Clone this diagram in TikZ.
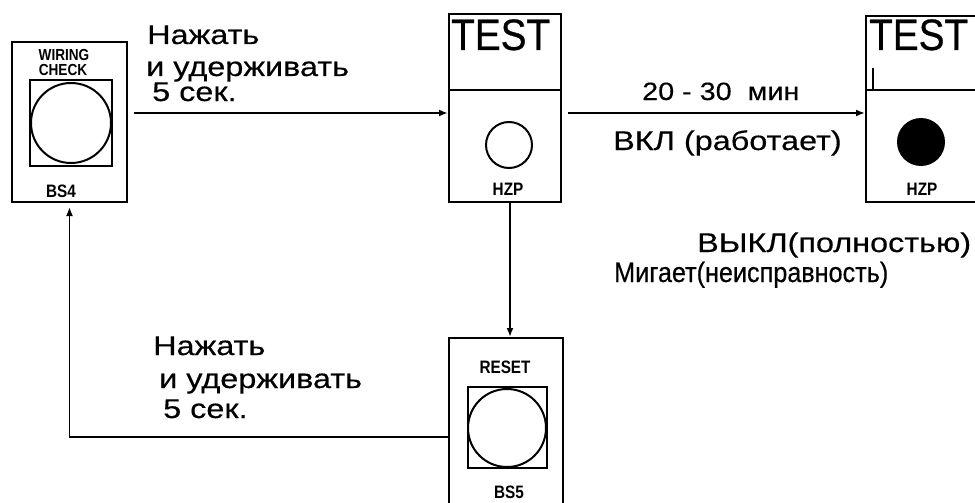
\documentclass[tikz,border=0pt]{standalone}
\usepackage{fontspec}
\setmainfont{Liberation Sans}
\newfontfamily\widefont[FakeStretch=1.2,FakeBold=0.4]{Liberation Sans}
\newfontfamily\timefont[FakeStretch=1.15,FakeBold=0.4]{Liberation Sans}
\newfontfamily\blinkfont[FakeStretch=0.9,FakeBold=0.4]{Liberation Sans}
\newfontfamily\testfont[FakeStretch=0.88,FakeBold=0.6]{Liberation Sans}
\newfontfamily\narrowfont[FakeStretch=0.85]{Liberation Sans}
\usetikzlibrary{arrows.meta}
\begin{document}
\begin{tikzpicture}[x=1pt,y=-1pt,
  box/.style={draw,line width=2pt,inner sep=0pt},
  arr/.style={line width=1.8pt,-{Latex[length=9pt,width=7pt]}},
  thin/.style={line width=1.5pt},
  main/.style={anchor=base west,inner sep=0pt,font=\widefont\fontsize{27}{30}\selectfont},
  lbl/.style={anchor=base,inner sep=0pt,font=\narrowfont\bfseries\fontsize{18}{20}\selectfont},
  smalllbl/.style={anchor=base,inner sep=0pt,font=\narrowfont\bfseries\fontsize{16}{17}\selectfont},
  testlbl/.style={anchor=base west,inner sep=0pt,font=\testfont\fontsize{44}{46}\selectfont}]
\useasboundingbox[fill=white] (0,0) rectangle (975,503);

% boxes
\node[box,minimum width=115pt,minimum height=160pt] (bs4) at (69.5,122) {};
\node[box,minimum width=112pt,minimum height=188pt] (test1) at (505,108) {};
\node[box,minimum width=120pt,minimum height=186pt] (test2) at (926,109) {};
\node[box,minimum width=114pt,minimum height=172pt] (bs5) at (506,424) {};

% BS4 contents
\node[smalllbl] (wiring) at (64,60) {WIRING};
\node[smalllbl] (check) at (63,75) {CHECK};
\draw[thin] (30,80) rectangle (112,166);
\draw[line width=2pt] (71,123) circle[radius=40];
\node[lbl] (bs4lbl) at (61,197) {BS4};

% TEST1 contents
\node[testlbl] (t1) at (451,50) {TEST};
\draw[line width=2pt] (test1.west |- 0,90) -- (test1.east |- 0,90);
\draw[line width=2pt] (509,145) circle[radius=23];
\node[lbl] (hzp1) at (508,195) {HZP};

% TEST2 contents
\node[testlbl] (t2) at (869,50) {TEST};
\draw[line width=2pt] (test2.west |- 0,90) -- (980,90);
\draw[line width=2pt] (873,68) -- (873,90);
\fill (921,142) circle[radius=24];
\node[lbl] (hzp2) at (922,195) {HZP};

% BS5 contents
\node[lbl] (reset) at (505,373) {RESET};
\draw[thin] (468,387) rectangle (547,468);
\draw[line width=2pt] (507,428) circle[radius=39];
\node[lbl] (bs5lbl) at (509,498) {BS5};

% connectors
\draw[arr] ([xshift=6pt,yshift=9pt]bs4.east) -- ([yshift=-5pt]test1.west);
\draw[arr] ([xshift=6pt,yshift=-5pt]test1.east) -- ([yshift=-4pt]test2.west);
\draw[arr] ([xshift=5pt]test1.south) -- ([xshift=4pt]bs5.north);
\draw[arr,shorten >=4pt] ([yshift=-13pt]bs5.west) -| (bs4.south);

% texts
\node[main] (tl1) at (147,44) {Нажать};
\node[main] (tl2) at (146,76) {и удерживать};
\node[main] (tl3) at (152,101) {5 сек.};
\node[main] (bl1) at (153,355) {Нажать};
\node[main] (bl2) at (159,388) {и удерживать};
\node[main] (bl3) at (163,418) {5 сек.};
\node[anchor=base west,inner sep=0pt,font=\timefont\fontsize{25}{28}\selectfont] (time) at (642,100) {20 - 30 \ мин};
\node[main] (on) at (613,150) {ВКЛ (работает)};
\node[main] (off) at (697,252) {ВЫКЛ(полностью)};
\node[anchor=base west,inner sep=0pt,font=\blinkfont\fontsize{28}{30}\selectfont] (blink) at (614,282) {Мигает(неисправность)};
\end{tikzpicture}
\end{document}
